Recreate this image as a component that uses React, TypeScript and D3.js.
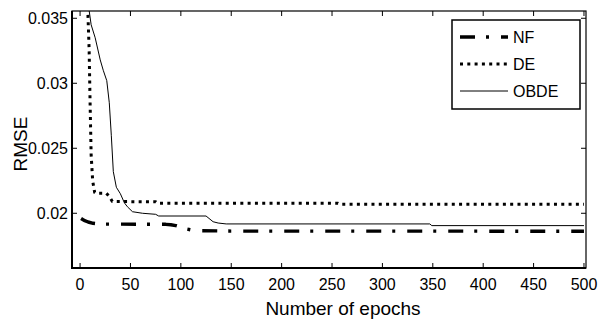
import React from 'react';
import * as d3 from 'd3';

const xTicks = [0, 50, 100, 150, 200, 250, 300, 350, 400, 450, 500];
const yTicks = [0.02, 0.025, 0.03, 0.035];
const yTickLabels = ['0.02', '0.025', '0.03', '0.035'];
const seriesNames = ['NF', 'DE', 'OBDE'];

const nfEpochs = [1, 4, 8, 13, 20, 85, 90, 95, 100, 105, 110, 120, 150, 500];
const nfValues = [0.0196, 0.01945, 0.01933, 0.01923, 0.01917, 0.01915, 0.01912, 0.01905, 0.01893, 0.01880, 0.01872, 0.01866, 0.01863, 0.01862];

const deEpochs = [6, 7.5, 9, 10, 11, 12.5, 14.5, 16, 26, 29, 32, 75, 77, 256, 258, 500];
const deValues = [0.0375, 0.036, 0.0326, 0.0283, 0.0245, 0.0225, 0.0216, 0.02154, 0.02154, 0.0213, 0.0209, 0.02089, 0.02077, 0.02077, 0.02069, 0.02069];

const obdeEpochs = [7, 9, 11, 15, 20, 23, 26.5, 29, 31, 33, 36, 40, 44, 47, 52, 62, 75, 78, 125, 132, 137, 145, 347, 349, 500];
const obdeValues = [0.0375, 0.0356, 0.0345, 0.0335, 0.0318, 0.031, 0.0302, 0.0285, 0.026, 0.0232, 0.022, 0.0215, 0.0208, 0.0205, 0.02012, 0.02, 0.01992, 0.01979, 0.01979, 0.01935, 0.01925, 0.01918, 0.01918, 0.01905, 0.01905];

const W = 601, H = 325;
const L = 72, R = 586, T = 11, B = 268;
const FONT = '"Liberation Sans", Arial, Helvetica, sans-serif';

export default function App() {
  const x = d3.scaleLinear().domain([-8, 502]).range([L, R]);
  const y = d3.scaleLinear().domain([0.01579, 0.03556]).range([B, T]);
  const line = d3.line<[number, number]>().x(d => x(d[0])).y(d => y(d[1]));
  const zip = (a: number[], b: number[]) => a.map((v, i) => [v, b[i]] as [number, number]);

  const styles = [
    { width: 3.4, dash: '15,11,3,12', color: '#000' },
    { width: 3, dash: '3,4.3', color: '#000' },
    { width: 1, dash: undefined as string | undefined, color: '#000' },
  ];
  const data = [zip(nfEpochs, nfValues), zip(deEpochs, deValues), zip(obdeEpochs, obdeValues)];

  const legX0 = 452, legY0 = 20, legW = 128, legH = 89;
  const rowY = [37, 64, 91];

  return (
    <svg width={W} height={H} style={{ position: 'absolute', left: 0, top: 0, background: '#fff' }} fontFamily={FONT}>
      <defs>
        <clipPath id="plotclip">
          <rect x={L} y={T} width={R - L} height={B - T} />
        </clipPath>
      </defs>
      <rect x={0} y={0} width={W} height={H} fill="#fff" />
      <g clipPath="url(#plotclip)">
        {data.map((d, i) => (
          <path key={i} d={line(d) || ''} fill="none" stroke={styles[i].color}
            strokeWidth={styles[i].width} strokeDasharray={styles[i].dash} strokeLinejoin="round" />
        ))}
      </g>
      {/* axes box */}
      <rect x={L} y={T} width={R - L} height={B - T} fill="none" stroke="#000" strokeWidth={1.2} />
      <path d={`M${L},${T}V${B}H${R}`} fill="none" stroke="#000" strokeWidth={2} />
      {/* x ticks */}
      {xTicks.map(t => (
        <g key={'x' + t}>
          <line x1={x(t)} x2={x(t)} y1={B} y2={B - 5} stroke="#000" strokeWidth={1} />
          <line x1={x(t)} x2={x(t)} y1={T} y2={T + 5} stroke="#000" strokeWidth={1} />
          <text x={x(t)} y={290} fontSize={16} textAnchor="middle" fill="#000">{t}</text>
        </g>
      ))}
      {yTicks.map((t, i) => (
        <g key={'y' + t}>
          <line x1={L} x2={L + 5} y1={y(t)} y2={y(t)} stroke="#000" strokeWidth={1} />
          <line x1={R} x2={R - 5} y1={y(t)} y2={y(t)} stroke="#000" strokeWidth={1} />
          <text x={68} y={y(t)} dy="0.36em" fontSize={16} textAnchor="end" fill="#000">{yTickLabels[i]}</text>
        </g>
      ))}
      <text x={343} y={315} fontSize={19} textAnchor="middle" fill="#000">Number of epochs</text>
      <text transform={`translate(26.5,144) rotate(-90)`} fontSize={19} textAnchor="middle" fill="#000">RMSE</text>
      {/* legend */}
      <rect x={legX0} y={legY0} width={legW} height={legH} fill="#fff" stroke="#000" strokeWidth={1.5} />
      {seriesNames.map((n, i) => (
        <g key={n}>
          <line x1={460} x2={508} y1={rowY[i]} y2={rowY[i]} stroke="#000"
            strokeWidth={styles[i].width} strokeDasharray={styles[i].dash} />
          <text x={513} y={rowY[i]} dy="0.36em" fontSize={16} fill="#000">{n}</text>
        </g>
      ))}
    </svg>
  );
}
